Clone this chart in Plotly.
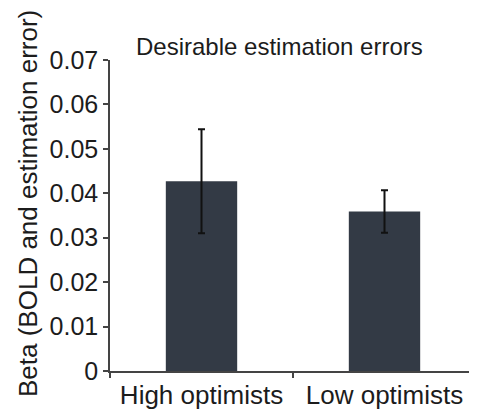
import plotly.graph_objects as go

categories = ["High optimists", "Low optimists"]
values = [0.0427, 0.0359]
errors = [0.0117, 0.0048]
y_ticks = [0, 0.01, 0.02, 0.03, 0.04, 0.05, 0.06, 0.07]
y_tick_labels = ["0", "0.01", "0.02", "0.03", "0.04", "0.05", "0.06", "0.07"]

FONT = "Arial, Liberation Sans, Helvetica, sans-serif"
TXT = "#1c1c1c"
OFF = 8  # page body margin offset
W, H = 477 - OFF, 411 - OFF
L, R, T, B = 110 - OFF, 1, 60 - OFF, 40
pw, ph = W - L - R, H - T - B

def px_x(p):
    return (p - OFF - L) / pw

def px_y(p):
    return (H - B - (p - OFF)) / ph

fig = go.Figure(go.Bar(
    x=categories, y=values, width=0.39,
    marker=dict(color="#333a45", line=dict(width=0)),
    error_y=dict(type="data", array=errors, visible=True,
                 color="#111111", thickness=2, width=3.5),
))

fig.update_layout(
    width=W, height=H,
    margin=dict(l=L, r=R, t=T, b=B),
    paper_bgcolor="white", plot_bgcolor="white",
    showlegend=False,
    font=dict(family=FONT, color=TXT),
    xaxis=dict(
        range=[-0.5, 1.5], tickson="boundaries", ticks="outside",
        ticklen=5, tickwidth=1.5, tickcolor="#444444",
        showline=True, linecolor="#444444", linewidth=1.5,
        showgrid=False, zeroline=False,
        tickfont=dict(size=26, family=FONT, color=TXT),
    ),
    yaxis=dict(
        range=[0, 0.07], tickvals=y_ticks, ticktext=y_tick_labels,
        ticks="outside", ticklen=5, tickwidth=1.5, tickcolor="#444444",
        showline=True, linecolor="#444444", linewidth=1.5,
        showgrid=False, zeroline=False,
        tickfont=dict(size=25, family=FONT, color=TXT),
    ),
    annotations=[
        dict(text="Desirable estimation errors", xref="paper", yref="paper",
             x=px_x(279.5), y=px_y(46), xanchor="center", yanchor="middle",
             showarrow=False, font=dict(size=24, family=FONT, color=TXT)),
        dict(text="Beta (BOLD and estimation error)", xref="paper", yref="paper",
             x=px_x(28), y=px_y(204), xanchor="center", yanchor="middle",
             textangle=-90, showarrow=False,
             font=dict(size=26, family=FONT, color=TXT)),
    ],
)

fig.write_html("out.html")
